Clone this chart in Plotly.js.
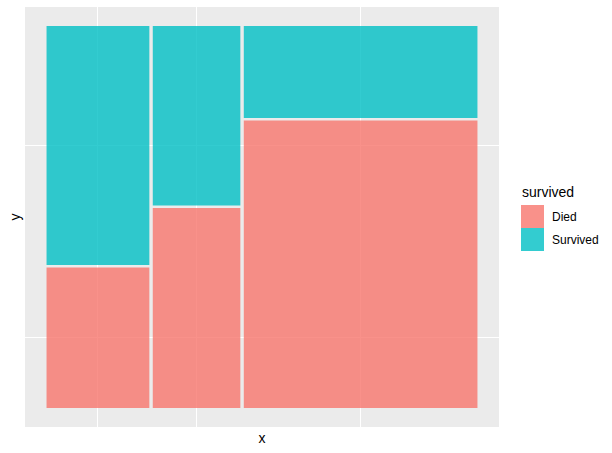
<!DOCTYPE html>
<html>
<head>
<meta charset="utf-8">
<script src="https://cdn.plot.ly/plotly-3.0.1.min.js"></script>
<style>
  html, body { margin: 0; padding: 0; background: #fff; }
  #chart { width: 612px; height: 453px; }
</style>
</head>
<body>
<div id="chart"></div>
<script>
// passenger class columns, counts per outcome
const classes = ["1st", "2nd", "3rd"];
const diedCounts = [80, 97, 372];
const survivedCounts = [136, 87, 119];
const groups = ["Died", "Survived"];
const groupColors = ["#F8766D", "#00BFC4"];

const FONT = "Liberation Sans, Arial, sans-serif";
const GAP_X = 0.008;
const GAP_Y = 0.0066;

function rgba(hex, a) {
  const n = parseInt(hex.slice(1), 16);
  return `rgba(${(n >> 16) & 255},${(n >> 8) & 255},${n & 255},${a})`;
}

function mosaicRects() {
  const totals = classes.map((c, i) => diedCounts[i] + survivedCounts[i]);
  const grand = totals.reduce((s, v) => s + v, 0);
  const usable = 1 - GAP_X * (classes.length - 1);
  let left = 0;
  return classes.map((c, i) => {
    const w = totals[i] / grand * usable;
    const diedH = diedCounts[i] / totals[i] * (1 - GAP_Y);
    const rect = {
      cls: c,
      center: left + w / 2,
      width: w,
      diedH: diedH,
      survBase: diedH + GAP_Y,
      survH: 1 - diedH - GAP_Y
    };
    left += w + GAP_X;
    return rect;
  });
}

function renderMosaic() {
  const rects = mosaicRects();

  const traces = [
    {
      type: "bar",
      name: groups[0],
      x: rects.map(r => r.center),
      width: rects.map(r => r.width),
      base: rects.map(() => 0),
      y: rects.map(r => r.diedH),
      marker: { color: rgba(groupColors[0], 0.8), line: { width: 0 } },
      customdata: rects.map(r => r.cls),
      hovertemplate: "%{customdata}: Died<extra></extra>",
      showlegend: false
    },
    {
      type: "bar",
      name: groups[1],
      x: rects.map(r => r.center),
      width: rects.map(r => r.width),
      base: rects.map(r => r.survBase),
      y: rects.map(r => r.survH),
      marker: { color: rgba(groupColors[1], 0.8), line: { width: 0 } },
      customdata: rects.map(r => r.cls),
      hovertemplate: "%{customdata}: Survived<extra></extra>",
      showlegend: false
    }
  ];

  // paper coords of the panel: x 25..499, y 7..427 px
  const px = v => (v - 25) / 474;
  const py = v => (427 - v) / 420;

  const shapes = groups.map((g, i) => ({
    type: "rect", xref: "paper", yref: "paper",
    x0: px(521), x1: px(544),
    y0: py(205 + 23 * (i + 1)), y1: py(205 + 23 * i),
    fillcolor: rgba(groupColors[i], 0.8), line: { width: 0 }
  }));

  const annotations = [
    {
      text: "survived", xref: "paper", yref: "paper",
      x: px(520), y: py(192), xanchor: "left", yanchor: "middle",
      showarrow: false, font: { family: FONT, size: 14, color: "#000" }
    }
  ].concat(groups.map((g, i) => ({
    text: g, xref: "paper", yref: "paper",
    x: px(550), y: py(216.5 + 23 * i), xanchor: "left", yanchor: "middle",
    showarrow: false, font: { family: FONT, size: 12, color: "#000" }
  })));

  const first = rects[0];

  Plotly.newPlot("chart", traces, {
    width: 612,
    height: 453,
    barmode: "overlay",
    paper_bgcolor: "#ffffff",
    plot_bgcolor: "#EBEBEB",
    margin: { l: 25, r: 113, t: 7, b: 26 },
    font: { family: FONT, color: "#000" },
    xaxis: {
      range: [-0.05, 1.05],
      tickvals: rects.map(r => r.center),
      showticklabels: false,
      ticks: "",
      showgrid: true,
      gridcolor: "#ffffff",
      gridwidth: 1,
      zeroline: false,
      showline: false,
      title: { text: "x", font: { family: FONT, size: 14, color: "#000" }, standoff: 6 }
    },
    yaxis: {
      range: [-0.05, 1.05],
      tickvals: [first.diedH / 2, (first.survBase + 1) / 2],
      showticklabels: false,
      ticks: "",
      showgrid: true,
      gridcolor: "#ffffff",
      gridwidth: 1,
      zeroline: false,
      showline: false,
      title: { text: "y", font: { family: FONT, size: 14, color: "#000" }, standoff: 0 }
    },
    shapes: shapes,
    annotations: annotations
  }, {
    displayModeBar: false,
    responsive: false
  });
}

document.addEventListener("DOMContentLoaded", renderMosaic);
</script>
</body>
</html>
